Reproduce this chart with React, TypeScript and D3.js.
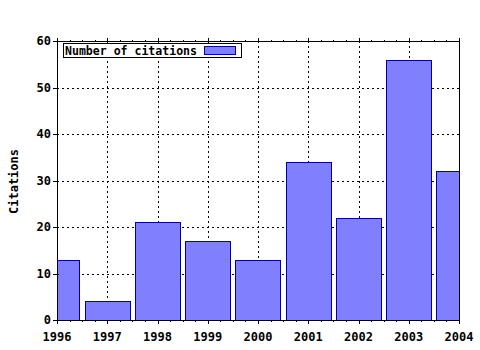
import React from "react";
import * as d3 from "d3";

const years = [1996, 1997, 1998, 1999, 2000, 2001, 2002, 2003, 2004];
const citations = [13, 4, 21, 17, 13, 34, 22, 56, 32];
const yTicks = [0, 10, 20, 30, 40, 50, 60];
const seriesName = "Number of citations";
const yLabel = "Citations";

const W = 480, H = 350;
const L = 57, R = 459, T = 41, B = 320;
const FONT = "'DejaVu Sans Mono', monospace";

export default function App() {
  const x = d3.scaleLinear().domain([1996, 2004]).range([L, R]);
  const y = d3.scaleLinear().domain([0, 60]).range([B, T]);
  const barW = (x(1997) - x(1996)) * 0.9;
  const minor = d3.range(1996, 2004.001, 0.25);
  return (
    <svg width={W} height={H} style={{ position: "absolute", left: 0, top: 0 }}>
      <rect width={W} height={H} fill="#fff" />
      <defs>
        <clipPath id="pa">
          <rect x={L} y={T} width={R - L} height={B - T} />
        </clipPath>
      </defs>
      {/* grid */}
      <g stroke="#000" strokeWidth={1} strokeDasharray="2,3" shapeRendering="crispEdges">
        {years.slice(1, -1).map((yr) => (
          <line key={yr} x1={Math.round(x(yr)) + 0.5} x2={Math.round(x(yr)) + 0.5} y1={T} y2={B} />
        ))}
        {yTicks.slice(1, -1).map((v) => (
          <line key={v} x1={L} x2={R} y1={Math.round(y(v)) + 0.5} y2={Math.round(y(v)) + 0.5} />
        ))}
      </g>
      {/* bars */}
      <g clipPath="url(#pa)">
        {years.map((yr, i) => (
          <rect
            key={yr}
            x={Math.round(x(yr) - barW / 2) + 0.5}
            y={Math.round(y(citations[i])) + 0.5}
            width={Math.round(barW)}
            height={Math.round(y(0) - y(citations[i]))}
            fill="#8080ff"
            stroke="#0000a8"
            strokeWidth={1}
          />
        ))}
      </g>
      {/* axes */}
      <g stroke="#000" strokeWidth={1} shapeRendering="crispEdges" fill="none">
        <rect x={L + 0.5} y={T + 0.5} width={R - L} height={B - T} />
        {minor.map((m, i) => {
          const xx = Math.round(x(m)) + 0.5;
          const len = i % 4 === 0 ? 4 : 2;
          return (
            <g key={i}>
              <line x1={xx} x2={xx} y1={B} y2={B + len} />
              <line x1={xx} x2={xx} y1={T + 1} y2={T + 1 - len} />
            </g>
          );
        })}
        {yTicks.map((v) => {
          const yy = Math.round(y(v)) + 0.5;
          return <line key={v} x1={L - 4} x2={L + 2} y1={yy} y2={yy} />;
        })}
      </g>
      {/* tick labels */}
      <g fontFamily={FONT} fontWeight="bold" fontSize={12} fill="#000">
        {yTicks.map((v) => (
          <text key={v} x={L - 6} y={y(v) + 4} textAnchor="end">{v}</text>
        ))}
        {years.map((yr) => (
          <text key={yr} x={x(yr)} y={341} textAnchor="middle">{yr}</text>
        ))}
        <text transform={`translate(18,${(T + B) / 2 + 1}) rotate(-90)`} textAnchor="middle">{yLabel}</text>
      </g>
      {/* legend */}
      <g>
        <rect x={63.5} y={43.5} width={178} height={14} fill="#fff" stroke="#000" shapeRendering="crispEdges" />
        <text x={65} y={55} fontFamily={FONT} fontWeight="bold" fontSize={12} textLength={132} lengthAdjust="spacingAndGlyphs">{seriesName}</text>
        <rect x={204.5} y={46.5} width={31} height={8} fill="#8080ff" stroke="#0000a8" shapeRendering="crispEdges" />
      </g>
    </svg>
  );
}
